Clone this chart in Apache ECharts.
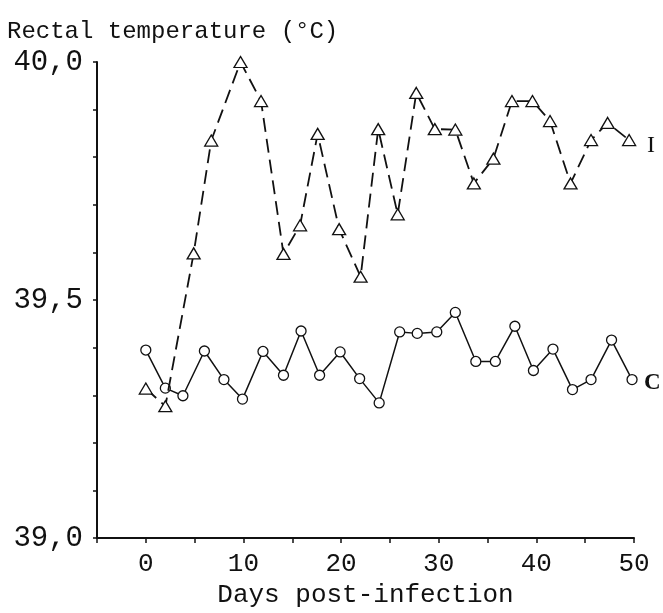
<!DOCTYPE html>
<html>
<head>
<meta charset="utf-8">
<script src="https://cdn.jsdelivr.net/npm/echarts@6/dist/echarts.min.js"></script>
<style>
html,body{margin:0;padding:0;background:#fff;}
#chart{width:663px;height:613px;}
</style>
</head>
<body>
<div id="chart"></div>
<script>
// Days post-infection and rectal temperature (°C)
const daysC = [0, 2, 3.8, 6, 8, 9.9, 12, 14.1, 15.9, 17.8, 19.9, 21.9, 23.9, 26, 27.8, 29.8, 31.7, 33.8, 35.8, 37.8, 39.7, 41.7, 43.7, 45.6, 47.7, 49.8];
const tempC = [39.395, 39.315, 39.299, 39.393, 39.333, 39.292, 39.392, 39.342, 39.435, 39.342, 39.391, 39.335, 39.284, 39.433, 39.430, 39.433, 39.474, 39.371, 39.371, 39.445, 39.352, 39.397, 39.312, 39.333, 39.416, 39.333];
const daysI = [0, 2, 4.9, 6.7, 9.7, 11.8, 14.1, 15.8, 17.6, 19.8, 22, 23.8, 25.8, 27.7, 29.6, 31.7, 33.6, 35.6, 37.5, 39.6, 41.4, 43.5, 45.6, 47.3, 49.5];
const tempI = [39.314, 39.277, 39.598, 39.835, 40.0, 39.918, 39.597, 39.657, 39.849, 39.649, 39.549, 39.859, 39.680, 39.935, 39.859, 39.858, 39.745, 39.797, 39.918, 39.918, 39.876, 39.745, 39.836, 39.872, 39.836];
const xTickLabels = [0, 10, 20, 30, 40, 50];
const yTickLabels = [39.0, 39.5, 40.0];
const seriesNames = ['I', 'C'];
const yTitle = 'Rectal temperature (°C)';
const xTitle = 'Days post-infection';

const pairs = (xs, ys) => xs.map((x, i) => [x, ys[i]]);
const mono = 'Liberation Mono';

const chart = echarts.init(document.getElementById('chart'), null, {renderer: 'canvas'});
chart.setOption({
  animation: false,
  backgroundColor: '#fff',
  title: {
    text: yTitle, left: 2, top: 15,
    textStyle: {fontFamily: mono, fontSize: 24, fontWeight: 'normal', color: '#111'}
  },
  grid: {left: 97, right: 29, top: 62, bottom: 68},
  xAxis: {
    type: 'value', min: -5, max: 50, interval: 5,
    name: xTitle, nameLocation: 'middle', nameGap: 43,
    nameTextStyle: {fontFamily: mono, fontSize: 26, color: '#111'},
    axisLine: {onZero: false, lineStyle: {color: '#111', width: 2}},
    axisTick: {show: true, length: 5, lineStyle: {color: '#111', width: 1.5}},
    axisLabel: {
      margin: 13, fontFamily: mono, fontSize: 26, color: '#111',
      formatter: v => xTickLabels.indexOf(Math.round(v)) >= 0 ? String(Math.round(v)) : ''
    },
    splitLine: {show: false}
  },
  yAxis: {
    type: 'value', min: 39, max: 40, interval: 0.1,
    axisLine: {show: true, onZero: false, lineStyle: {color: '#111', width: 2}},
    axisTick: {show: true, length: 4, lineStyle: {color: '#111', width: 1.5}},
    axisLabel: {
      margin: 14, fontFamily: mono, fontSize: 29, color: '#111',
      formatter: v => {
        const r = Math.round(v * 10) / 10;
        return yTickLabels.some(t => Math.abs(t - r) < 1e-6) ? r.toFixed(1).replace('.', ',') : '';
      }
    },
    splitLine: {show: false}
  },
  series: [
    {
      name: seriesNames[0], type: 'line', data: pairs(daysI, tempI),
      symbol: 'triangle', symbolSize: [13, 11], showAllSymbol: true,
      itemStyle: {color: '#fff', borderColor: '#111', borderWidth: 1.3},
      lineStyle: {color: '#111', width: 1.8, type: [14, 7]},
      endLabel: {show: true, formatter: seriesNames[0], distance: 18, offset: [0, 6],
        fontFamily: 'Liberation Serif', fontSize: 24, color: '#111'},
      z: 3
    },
    {
      name: seriesNames[1], type: 'line', data: pairs(daysC, tempC),
      symbol: 'circle', symbolSize: 10, showAllSymbol: true,
      itemStyle: {color: '#fff', borderColor: '#111', borderWidth: 1.3},
      lineStyle: {color: '#111', width: 1.5},
      endLabel: {show: true, formatter: seriesNames[1], distance: 12, offset: [0, 4],
        fontFamily: 'Liberation Serif', fontSize: 23, fontWeight: 'bold', color: '#111'},
      z: 2
    }
  ]
});
</script>
</body>
</html>
